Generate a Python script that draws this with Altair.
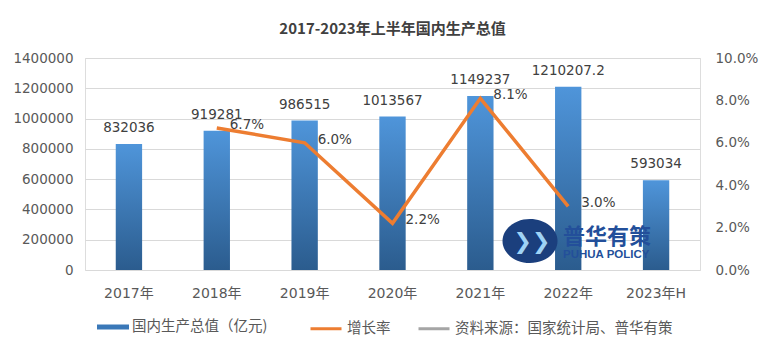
import altair as alt
import pandas as pd

years = ["2017年", "2018年", "2019年", "2020年", "2021年", "2022年", "2023年H"]
gdp = [832036, 919281, 986515, 1013567, 1149237, 1210207.2, 593034]
gdp_labels = ["832036", "919281", "986515", "1013567", "1149237", "1210207.2", "593034"]
growth_years = ["2018年", "2019年", "2020年", "2021年", "2022年"]
growth = [0.067, 0.060, 0.022, 0.081, 0.030]
growth_labels = ["6.7%", "6.0%", "2.2%", "8.1%", "3.0%"]

bar_name = "国内生产总值（亿元)"
line_names = ["增长率", "资料来源：国家统计局、普华有策"]
brand_cn = "普华有策"
brand_en = "PUHUA POLICY"

FONT = "Noto Sans CJK SC"
NUMFONT = "DejaVu Sans, Noto Sans CJK SC"

df_bar = pd.DataFrame({"year": years, "gdp": gdp, "label": gdp_labels, "series": bar_name})
df_line = pd.DataFrame({"year": growth_years, "growth": growth, "label": growth_labels, "series": line_names[0]})
df_brand = pd.DataFrame({"cn": [brand_cn], "en": [brand_en], "chev": ["❯❯"]})

xenc = alt.X("year:N", sort=years, title=None,
             scale=alt.Scale(paddingInner=0.7, paddingOuter=0.35),
             axis=alt.Axis(labelAngle=0, labelFontSize=14, labelColor="#595959", labelFont=NUMFONT,
                           domain=False, ticks=False, labelPadding=16))

yleft = alt.Y("gdp:Q", title=None,
              scale=alt.Scale(domain=[0, 1400000], nice=False),
              axis=alt.Axis(values=list(range(0, 1400001, 200000)), format="d", labelFontSize=13.5,
                            labelColor="#595959", labelFont=NUMFONT, domain=False, ticks=False,
                            gridColor="#d9d9d9", labelPadding=12))

grad = alt.Gradient(gradient="linear",
                    stops=[alt.GradientStop(color="#4f95da", offset=0),
                           alt.GradientStop(color="#2b5c8e", offset=1)],
                    x1=0, x2=0, y1=0, y2=1)

bars = alt.Chart(df_bar).mark_bar(color=grad).encode(x=xenc, y=yleft)

legend_fill = alt.Chart(df_bar).mark_square(size=0, opacity=1).encode(
    x=xenc, y=yleft,
    fill=alt.Fill("series:N", scale=alt.Scale(domain=[bar_name], range=["#3a78b8"]),
                  legend=alt.Legend(title=None, orient="none", legendX=18, legendY=259,
                                    symbolType="M-1.6,-0.25H1.6V0.25H-1.6Z", symbolSize=400,
                                    symbolStrokeWidth=0, labelFont=FONT, labelFontSize=14.5,
                                    labelColor="#595959", labelOffset=9, labelLimit=400))
)

bar_text = alt.Chart(df_bar).mark_text(baseline="bottom", dy=-9, fontSize=13.5, color="#404040",
                                       font=NUMFONT).encode(x=xenc, y=yleft, text="label:N")

brand_circle = alt.Chart(df_brand).mark_point(filled=True, size=1936, color="#1b3f7d", opacity=1,
                                               shape="M-1.25,0A1.25,1,0,1,0,1.25,0A1.25,1,0,1,0,-1.25,0Z",
                                               strokeWidth=0).encode(x=alt.value(445), y=alt.value(183))
brand_chev = alt.Chart(df_brand).mark_text(fontSize=22, color="#9fd3f5", fontWeight="bold",
                                           font="DejaVu Sans").encode(
    x=alt.value(447), y=alt.value(184), text="chev:N")
brand_cn_t = alt.Chart(df_brand).mark_text(align="left", fontSize=22, fontWeight="bold", color="#234f9a",
                                           font=FONT).encode(x=alt.value(478), y=alt.value(179), text="cn:N")
brand_en_t = alt.Chart(df_brand).mark_text(align="left", fontSize=11.5, fontWeight="bold", color="#234f9a",
                                           font="Liberation Sans").encode(x=alt.value(478), y=alt.value(197), text="en:N")

yright = alt.Y("growth:Q", title=None,
               scale=alt.Scale(domain=[0, 0.10], nice=False),
               axis=alt.Axis(orient="right", values=[0, 0.02, 0.04, 0.06, 0.08, 0.10], format=".1%",
                             labelFontSize=13.5, labelColor="#595959", labelFont=NUMFONT, domain=False,
                             ticks=False, grid=False, labelPadding=15))

line = alt.Chart(df_line).mark_line(strokeWidth=3.5).encode(
    x=xenc, y=yright,
    stroke=alt.Stroke("series:N", scale=alt.Scale(domain=line_names, range=["#ED7D31", "#A5A5A5"]),
                      legend=alt.Legend(title=None, orient="none", legendX=224, legendY=253.5,
                                        direction="horizontal", symbolType="stroke", symbolSize=961,
                                        symbolStrokeWidth=3, columnPadding=21, labelFont=FONT,
                                        labelFontSize=14.5, labelColor="#595959", labelOffset=4,
                                        labelLimit=400))
)

line_text = alt.Chart(df_line).mark_text(align="left", baseline="middle", dx=13, dy=-3, fontSize=13.5,
                                        color="#404040", font=NUMFONT).encode(
    x=xenc, y=yright, text="label:N")

left = alt.layer(bars, legend_fill, bar_text, brand_circle, brand_chev, brand_cn_t, brand_en_t)
right = alt.layer(line, line_text)

chart = alt.layer(left, right).resolve_scale(y="independent").properties(
    width=615, height=212,
    title=alt.TitleParams("2017-2023年上半年国内生产总值", font=FONT, fontSize=15, fontWeight="bold",
                          color="#404040", anchor="middle", offset=14),
    padding={"left": 85, "top": 58, "right": 69, "bottom": 86},
    autosize=alt.AutoSizeParams(type="none"),
).configure_view(stroke=None).configure(background="white")

chart.save("out.html", embed_options={"renderer": "svg", "actions": False})
